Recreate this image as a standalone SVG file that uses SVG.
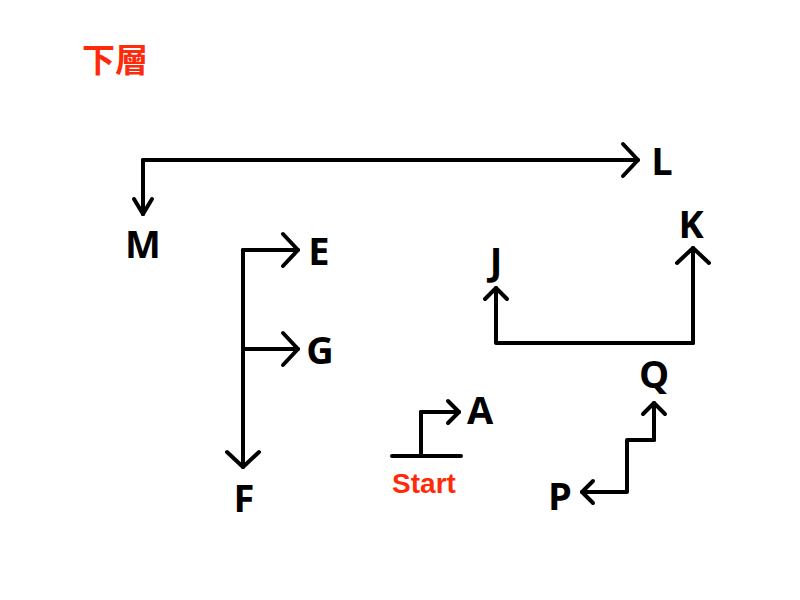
<svg xmlns="http://www.w3.org/2000/svg" width="800" height="600" viewBox="0 0 800 600">
<style>
.ln{fill:none;stroke:#000;stroke-width:4;stroke-linecap:round;stroke-linejoin:round}
.lbl{font-family:"Open Sans","Noto Sans",sans-serif;font-weight:bold;font-size:38px;fill:#000;text-anchor:middle}
.red{fill:#ff2a0a;font-weight:bold}
</style>
<defs>
<marker id="big" markerUnits="userSpaceOnUse" viewBox="-20 -20 24 40" refX="0" refY="0" markerWidth="24" markerHeight="40" orient="auto" overflow="visible">
<path d="M-15,-16 L0,0 L-15,16" fill="none" stroke="#000" stroke-width="4" stroke-linecap="round" stroke-linejoin="round"/>
</marker>
<marker id="sm" markerUnits="userSpaceOnUse" viewBox="-20 -20 24 40" refX="0" refY="0" markerWidth="24" markerHeight="40" orient="auto" overflow="visible">
<path d="M-11,-11 L0,0 L-11,11" fill="none" stroke="#000" stroke-width="4" stroke-linecap="round" stroke-linejoin="round"/>
</marker>
<marker id="nar" markerUnits="userSpaceOnUse" viewBox="-20 -20 24 40" refX="0" refY="0" markerWidth="24" markerHeight="40" orient="auto" overflow="visible">
<path d="M-15,-9 L0,0 L-15,9" fill="none" stroke="#000" stroke-width="4" stroke-linecap="round" stroke-linejoin="round"/>
</marker>
</defs>
<rect width="800" height="600" fill="#fff"/>
<text x="82" y="72" class="red" style="font-family:'Noto Sans CJK TC','Noto Sans CJK JP',sans-serif;font-size:33px">下層</text>
<g id="connectors">
<path class="ln" d="M143,214 V160 H638" marker-end="url(#big)"/>
<path class="ln" d="M143,160 V214" marker-end="url(#nar)"/>
<path class="ln" d="M243,250 H298" marker-end="url(#big)"/>
<path class="ln" d="M243,349 H298" marker-end="url(#big)"/>
<path class="ln" d="M243,250 V467" marker-end="url(#big)"/>
<path class="ln" d="M392,456 H461 M421,456 V412"/>
<path class="ln" d="M421,412 H459" marker-end="url(#sm)"/>
<path class="ln" d="M693,343 H496 V288" marker-end="url(#sm)"/>
<path class="ln" d="M693,343 V248" marker-end="url(#big)"/>
<path class="ln" d="M654,440 V403" marker-end="url(#sm)"/>
<path class="ln" d="M654,440 H627 V492 H582" marker-end="url(#sm)"/>
</g>
<g id="node-L"><text class="lbl" x="662" y="175">L</text></g>
<g id="node-M"><text class="lbl" x="143" y="258">M</text></g>
<g id="node-E"><text class="lbl" x="319" y="265">E</text></g>
<g id="node-G"><text class="lbl" x="320" y="364">G</text></g>
<g id="node-F"><text class="lbl" x="244" y="512">F</text></g>
<g id="node-A"><text class="lbl" x="480" y="424">A</text></g>
<g id="node-Start"><text x="424" y="493" class="red" style="font-family:'Liberation Sans',Arial,sans-serif;font-size:28px;text-anchor:middle">Start</text></g>
<g id="node-J"><text class="lbl" x="496" y="275">J</text></g>
<g id="node-K"><text class="lbl" x="691" y="238">K</text></g>
<g id="node-Q"><text class="lbl" x="654" y="388">Q</text></g>
<g id="node-P"><text class="lbl" x="560" y="510">P</text></g>
</svg>
